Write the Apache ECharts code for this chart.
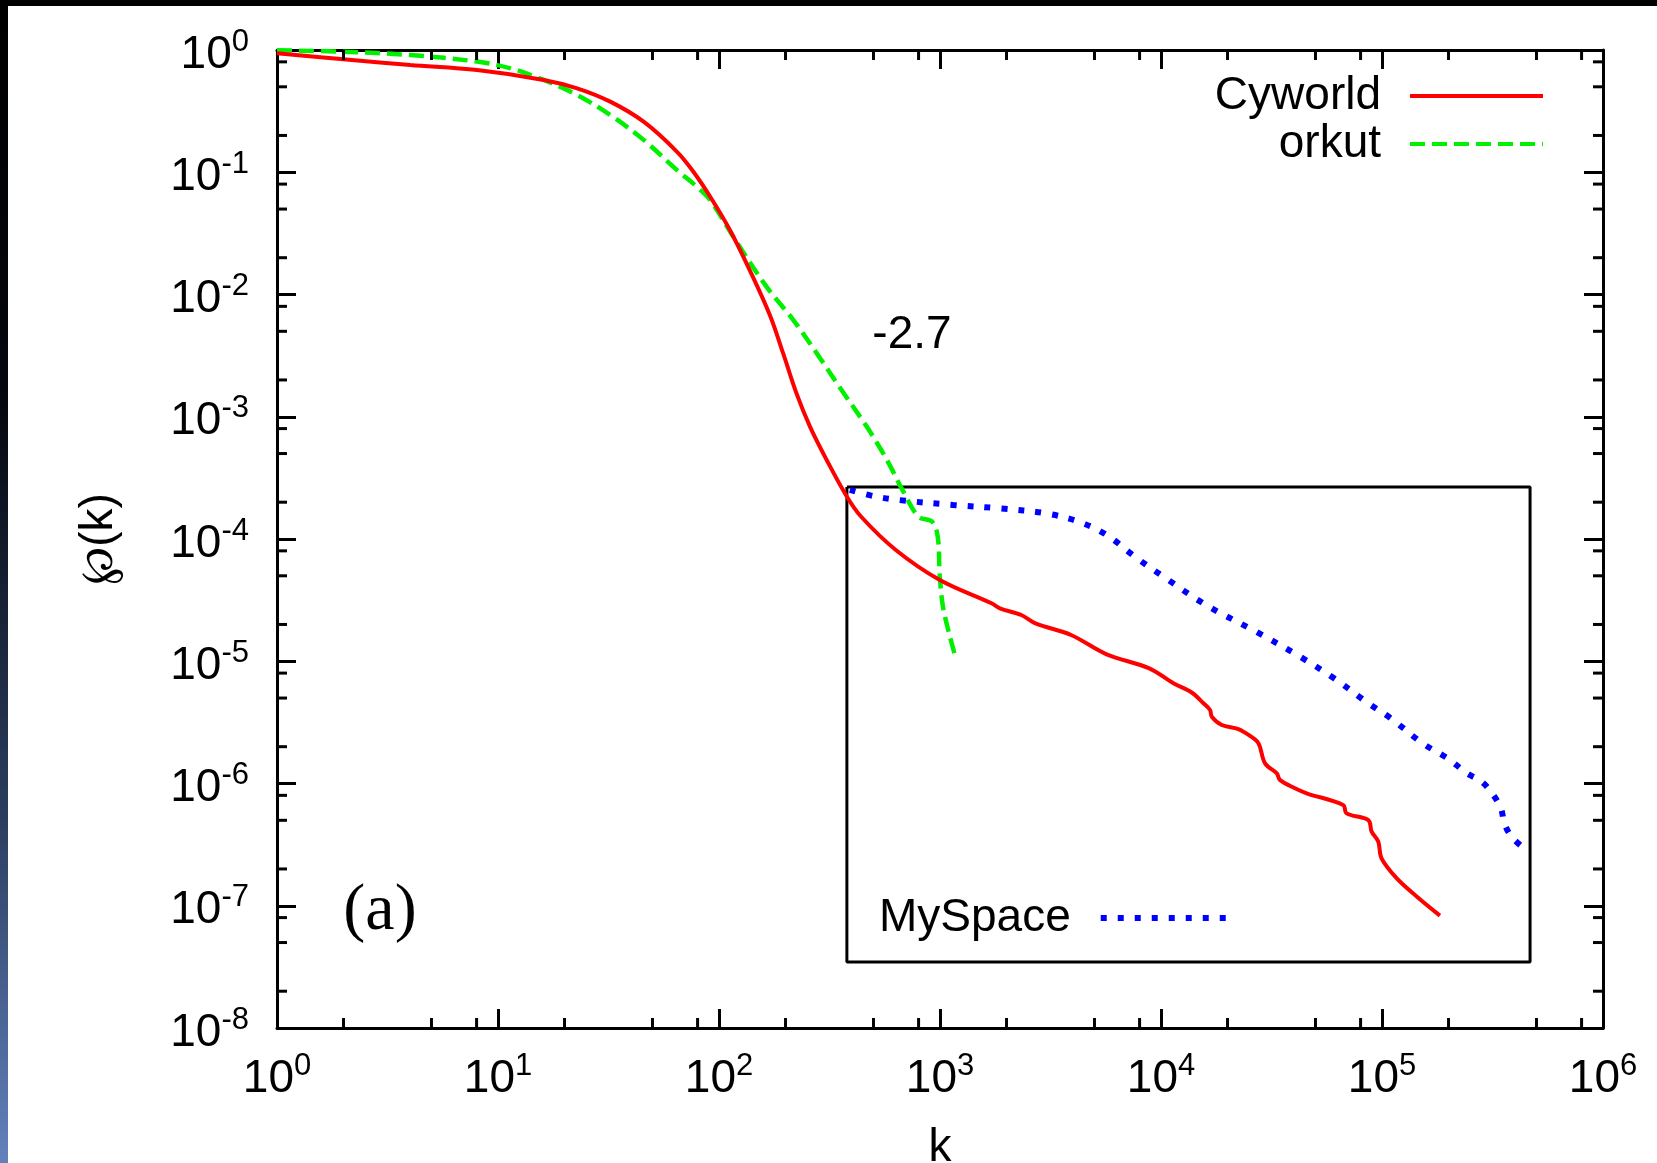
<!DOCTYPE html>
<html><head><meta charset="utf-8">
<script src="https://cdn.jsdelivr.net/npm/echarts@6/dist/echarts.min.js"></script>
<style>html,body{margin:0;padding:0;background:#fff;overflow:hidden}#c{width:1657px;height:1163px}</style>
</head><body><div id="c"></div>
<script>
// ---- data ----
const cyworldK = [1, 2.00, 4.01, 8.04, 16.1, 22.8, 32.2, 45.6, 64.6, 76.6, 91.4, 112, 138, 170, 195, 224, 258, 307, 378, 440, 631, 998, 1710, 1866, 2333, 2704, 3917, 5675, 8851, 11380, 13770, 15560, 16670, 16980, 18840, 22390, 25290, 27610, 29580, 33420, 34510, 40370, 45600, 66680, 69180, 86700, 89740, 96160, 99540, 116400, 143500, 182800];
const cyworldP = [0.940, 0.839, 0.753, 0.685, 0.569, 0.486, 0.378, 0.259, 0.147, 0.101, 0.0627, 0.0337, 0.0157, 0.00676, 0.00331, 0.00156, 8.30e-4, 4.43e-4, 2.24e-4, 1.52e-4, 8.13e-5, 4.62e-5, 2.98e-5, 2.71e-5, 2.39e-5, 2.04e-5, 1.64e-5, 1.14e-5, 8.75e-6, 6.61e-6, 5.55e-6, 4.53e-6, 3.99e-6, 3.52e-6, 3.01e-6, 2.79e-6, 2.45e-6, 2.13e-6, 1.46e-6, 1.21e-6, 1.07e-6, 9.14e-7, 8.32e-7, 6.67e-7, 5.70e-7, 5.02e-7, 4.04e-7, 3.35e-7, 2.44e-7, 1.68e-7, 1.19e-7, 8.30e-8];
const orkutK = [1, 2.00, 4.01, 8.04, 11.4, 16.1, 22.8, 32.2, 45.6, 64.6, 79.3, 91.4, 116, 164, 217, 277, 365, 466, 537, 594, 682, 800, 920, 977, 998, 1038, 1169];
const orkutP = [0.995, 0.968, 0.910, 0.804, 0.708, 0.569, 0.429, 0.294, 0.184, 0.104, 0.0762, 0.0589, 0.0297, 0.0116, 0.00618, 0.00330, 0.00158, 8.32e-4, 5.50e-4, 3.98e-4, 2.45e-4, 1.52e-4, 1.39e-4, 1.04e-4, 4.92e-5, 2.62e-5, 1.12e-5];
const myspaceK = [391, 501, 656, 1146, 1866, 3020, 4217, 5675, 7621, 10260, 16000, 26850, 42560, 60670, 84530, 109600, 152800, 197700, 242700, 281800, 314800, 345100, 358100, 385500, 439500];
const myspaceP = [2.52e-4, 2.24e-4, 2.08e-4, 1.90e-4, 1.78e-4, 1.62e-4, 1.39e-4, 1.08e-4, 7.16e-5, 4.92e-5, 2.88e-5, 1.75e-5, 1.09e-5, 7.26e-6, 4.68e-6, 3.41e-6, 2.13e-6, 1.61e-6, 1.21e-6, 1.04e-6, 8.32e-7, 6.27e-7, 4.72e-7, 3.67e-7, 2.95e-7];
// inset box corners (data space)
const insetK = [379, 467700];
const insetP = [3.47e-8, 2.66e-4];
// axis ranges and minor tick values
const xRange = [1, 1e6];
const yRange = [1e-8, 1];
const xMinorTicks = [2, 5, 8, 20, 50, 80, 200, 500, 800, 2000, 5000, 8000, 2e4, 5e4, 8e4, 2e5, 5e5, 8e5];
const yMinorTicks = [2e-8, 5e-8, 8e-8, 2e-7, 5e-7, 8e-7, 2e-6, 5e-6, 8e-6, 2e-5, 5e-5, 8e-5, 2e-4, 5e-4, 8e-4, 2e-3, 5e-3, 8e-3, 0.02, 0.05, 0.08, 0.2, 0.5, 0.8];

const FONT = 'Liberation Sans';
const MAJOR = 19, MINOR = 10;
const RED = '#ff0000', GREEN = '#00f000', BLUE = '#0000ff';

function zip(a, b) { return a.map((v, i) => [v, b[i]]); }
function expLabel(v) {
  const e = Math.round(Math.log10(v));
  return '{b|10}{s|' + e + '}';
}
const richLab = {
  b: { fontSize: 46, lineHeight: 57, fontFamily: FONT, color: '#000' },
  s: { fontSize: 31, lineHeight: 20, fontFamily: FONT, color: '#000', verticalAlign: 'top' }
};
const axLine = { show: true, lineStyle: { color: '#000', width: 3 } };
const axTick = { show: true, inside: true, length: MAJOR, lineStyle: { color: '#000', width: 3 } };

const chart = echarts.init(document.getElementById('c'), null, { renderer: 'canvas' });
const option = {
  animation: false,
  backgroundColor: '#fff',
  grid: { left: 277, right: 54, top: 50, bottom: 135, containLabel: false, outerBoundsMode: 'none' },
  xAxis: [
    { type: 'log', logBase: 10, min: xRange[0], max: xRange[1], splitNumber: 6, position: 'bottom',
      axisLine: axLine, axisTick: axTick, splitLine: { show: false }, minorTick: { show: false },
      axisLabel: { margin: 23, formatter: expLabel, rich: richLab },
      name: 'k', nameLocation: 'middle', nameGap: 97,
      nameTextStyle: { fontSize: 46, lineHeight: 46, fontFamily: FONT, color: '#000' } },
    { type: 'log', logBase: 10, min: xRange[0], max: xRange[1], splitNumber: 6, position: 'top',
      axisLine: axLine, axisTick: axTick, splitLine: { show: false }, axisLabel: { show: false } }
  ],
  yAxis: [
    { type: 'log', logBase: 10, min: yRange[0], max: yRange[1], splitNumber: 8, position: 'left',
      axisLine: axLine, axisTick: axTick, splitLine: { show: false },
      axisLabel: { margin: 28, formatter: expLabel, rich: richLab, padding: [10, 0, 0, 0] },
      name: '\u2118(k)', nameLocation: 'middle', nameRotate: 90, nameGap: 155,
      nameTextStyle: { fontSize: 46, lineHeight: 46, fontFamily: FONT, color: '#000' } },
    { type: 'log', logBase: 10, min: yRange[0], max: yRange[1], splitNumber: 8, position: 'right',
      axisLine: axLine, axisTick: axTick, splitLine: { show: false }, axisLabel: { show: false } }
  ],
  legend: [
    { data: ['Cyworld', 'orkut'], orient: 'vertical', right: 112, top: 73, align: 'right',
      itemWidth: 133, itemHeight: 14, itemGap: 2, padding: 0, selectedMode: false,
      itemStyle: { opacity: 0 }, lineStyle: { width: 4 },
      textStyle: { fontSize: 46, lineHeight: 46, fontFamily: FONT, color: '#000', padding: [0, 24, 0, 0] } },
    { data: ['MySpace'], orient: 'vertical', left: 879, top: 895, align: 'right',
      itemWidth: 125, itemHeight: 14, itemGap: 2, padding: 0, selectedMode: false,
      itemStyle: { opacity: 0 }, lineStyle: { width: 6 },
      textStyle: { fontSize: 46, lineHeight: 46, fontFamily: FONT, color: '#000', padding: [0, 25, 0, 0] } }
  ],
  graphic: [
    { type: 'rect', left: 0, top: 0, z: 100, shape: { width: 1657, height: 6 }, style: { fill: '#000' } },
    { type: 'rect', left: 0, top: 0, z: 100, shape: { width: 8, height: 1163 },
      style: { fill: new echarts.graphic.LinearGradient(0, 0, 0, 1, [
        { offset: 0, color: '#000000' }, { offset: 0.35, color: '#05080f' },
        { offset: 0.7, color: '#2b3d5e' }, { offset: 1, color: '#6282bd' }]) } },
    { type: 'text', x: 912, y: 335, z: 50,
      style: { text: '-2.7', fontSize: 46, fontFamily: FONT, fill: '#000', align: 'center', verticalAlign: 'middle' } },
    { type: 'text', x: 380, y: 912, z: 50,
      style: { text: '(a)', fontSize: 66, fontFamily: 'Liberation Serif', fill: '#000', align: 'center', verticalAlign: 'middle' } }
  ],
  series: [
    { type: 'line', name: 'box', silent: true, symbol: 'none', z: 1,
      data: [[insetK[0], insetP[1]], [insetK[1], insetP[1]], [insetK[1], insetP[0]], [insetK[0], insetP[0]], [insetK[0], insetP[1]]],
      lineStyle: { color: '#000', width: 3 } },
    { type: 'line', name: 'MySpace', symbol: 'none', showSymbol: false, z: 3, data: zip(myspaceK, myspaceP),
      smooth: 0.35,
      itemStyle: { color: BLUE }, lineStyle: { color: BLUE, width: 6, type: [6, 11], cap: 'butt' } },
    { type: 'line', name: 'orkut', symbol: 'none', showSymbol: false, z: 4, data: zip(orkutK, orkutP),
      smooth: 0.35,
      itemStyle: { color: GREEN }, lineStyle: { color: GREEN, width: 4.5, type: [15, 7] } },
    { type: 'line', name: 'Cyworld', symbol: 'none', showSymbol: false, z: 5, data: zip(cyworldK, cyworldP),
      smooth: 0.35,
      itemStyle: { color: RED }, lineStyle: { color: RED, width: 4 } },
    { type: 'custom', name: 'xminor', silent: true, z: 6, data: xMinorTicks.map(v => [v, yRange[0]]),
      renderItem: function (params, api) {
        const v = api.value(0);
        const b = api.coord([v, yRange[0]]), t = api.coord([v, yRange[1]]);
        return { type: 'group', children: [
          { type: 'line', shape: { x1: b[0], y1: b[1], x2: b[0], y2: b[1] - MINOR }, style: { stroke: '#000', lineWidth: 3 } },
          { type: 'line', shape: { x1: t[0], y1: t[1], x2: t[0], y2: t[1] + MINOR }, style: { stroke: '#000', lineWidth: 3 } }
        ] };
      } },
    { type: 'custom', name: 'yminor', silent: true, z: 6, data: yMinorTicks.map(v => [xRange[0], v]),
      renderItem: function (params, api) {
        const v = api.value(1);
        const l = api.coord([xRange[0], v]), r = api.coord([xRange[1], v]);
        return { type: 'group', children: [
          { type: 'line', shape: { x1: l[0], y1: l[1], x2: l[0] + MINOR, y2: l[1] }, style: { stroke: '#000', lineWidth: 3 } },
          { type: 'line', shape: { x1: r[0], y1: r[1], x2: r[0] - MINOR, y2: r[1] }, style: { stroke: '#000', lineWidth: 3 } }
        ] };
      } }
  ]
};
chart.setOption(option);
</script>
</body></html>
